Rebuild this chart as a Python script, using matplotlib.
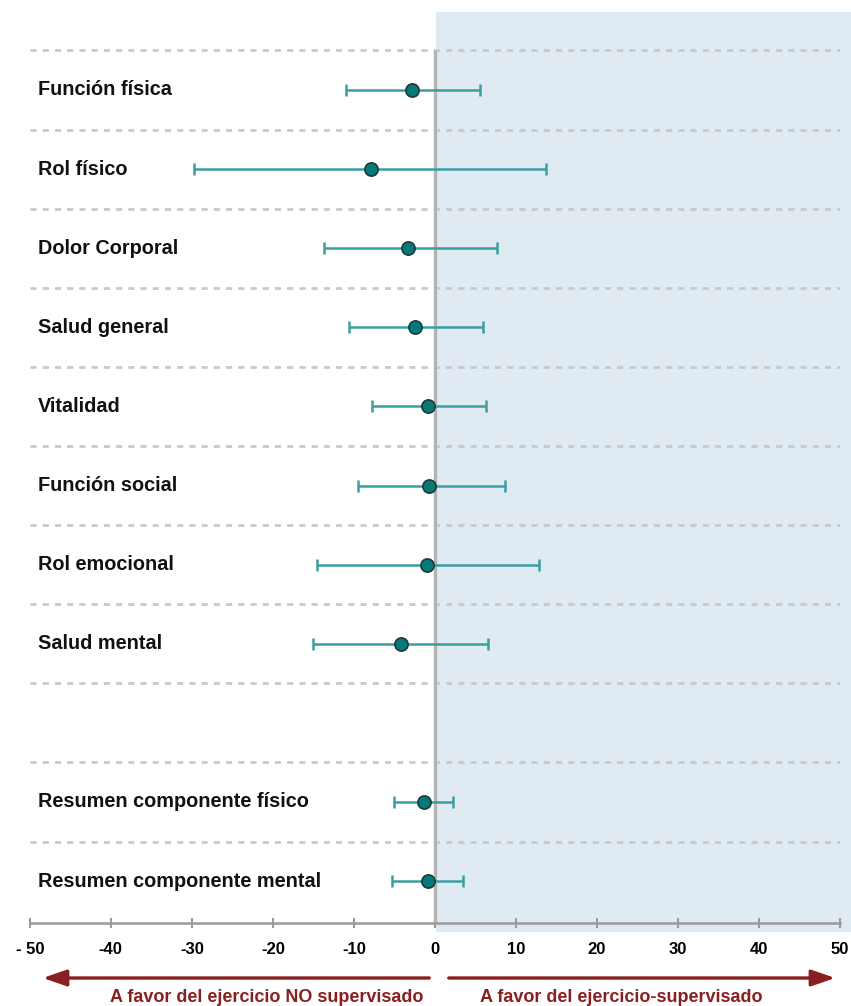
import matplotlib
matplotlib.use("Agg")
import matplotlib.pyplot as plt
from matplotlib.patches import Rectangle, FancyArrowPatch

# SF-36 domains: mean difference and 95% CI (supervised vs. non-supervised exercise)
labels = [
    "Función física", "Rol físico", "Dolor Corporal", "Salud general",
    "Vitalidad", "Función social", "Rol emocional", "Salud mental",
    None,
    "Resumen componente físico", "Resumen componente mental",
]
means = [-2.8, -7.9, -3.3, -2.4, -0.9, -0.7, -1.0, -4.2, None, -1.3, -0.8]
ci_low = [-11.0, -29.7, -13.7, -10.6, -7.7, -9.5, -14.6, -15.0, None, -5.0, -5.3]
ci_high = [5.6, 13.7, 7.7, 6.0, 6.3, 8.6, 12.8, 6.6, None, 2.3, 3.5]
xticks = [-50, -40, -30, -20, -10, 0, 10, 20, 30, 40, 50]
xticklabels = ["- 50", "-40", "-30", "-20", "-10", "0", "10", "20", "30", "40", "50"]
left_note = "A favor del ejercicio NO supervisado"
right_note = "A favor del ejercicio-supervisado"

plt.rcParams["font.family"] = ["Liberation Sans", "DejaVu Sans"]

fig = plt.figure(figsize=(8.51, 10.06), dpi=100)
ax = fig.add_axes([0.035, 0.0825, 0.952, 0.9056])
ax.patch.set_visible(False)

n = len(labels)
ax.set_xlim(-50, 50)
ax.set_ylim(n - 0.47, -0.986)

# shaded half favouring supervised exercise
ax.add_patch(Rectangle((0.15, -0.986), 51.4, n - 0.47 + 0.986 + 0.12,
                       facecolor="#dfeaf3", edgecolor="none", zorder=0,
                       clip_on=False))

# row separators
for i in range(n):
    ax.plot([-50, 50], [i - 0.5, i - 0.5], color="#c9c9c9", lw=2,
            dashes=(2.2, 2.2), zorder=1)

# zero line
ax.plot([0, 0], [-0.5, n - 0.47], color="#b3b3b3", lw=2.4, zorder=2,
        solid_capstyle="butt")

for i, (lab, m, lo, hi) in enumerate(zip(labels, means, ci_low, ci_high)):
    if lab is None:
        continue
    ax.errorbar([m], [i], xerr=[[m - lo], [hi - m]], fmt="none",
                ecolor="#3a9fa0", elinewidth=1.8, capsize=4.2, capthick=1.8,
                zorder=3)
    ax.plot([m], [i], "o", ms=9.5, mfc="#067a78", mec="#1e3a3a", mew=1.2,
            zorder=4)
    ax.text(0.01, i, lab, transform=ax.get_yaxis_transform(),
            ha="left", va="center", fontsize=14.3, fontweight="bold",
            color="#111111")

for s in ["top", "right", "left"]:
    ax.spines[s].set_visible(False)
ax.spines["bottom"].set_color("#9a9a9a")
ax.spines["bottom"].set_linewidth(1.8)
ax.set_yticks([])
ax.set_xticks(xticks)
ax.set_xticklabels(xticklabels, fontweight="bold", fontsize=12)
ax.tick_params(axis="x", direction="inout", length=7, width=1.5,
               color="#9a9a9a", pad=10)

# direction arrows
arrow_y = 28 / 1006
red = "#8b1f1f"
for start, end in [((432 / 851, arrow_y), (40 / 851, arrow_y)),
                   ((446 / 851, arrow_y), (838 / 851, arrow_y))]:
    fig.patches.append(FancyArrowPatch(
        start, end, transform=fig.transFigure,
        arrowstyle="-|>,head_length=1.3,head_width=0.45", mutation_scale=11,
        color=red, lw=2.4))
fig.text(267 / 851, 8 / 1006, left_note, ha="center", va="center",
         color=red, fontweight="bold", fontsize=13)
fig.text(621 / 851, 8 / 1006, right_note, ha="center", va="center",
         color=red, fontweight="bold", fontsize=13)

fig.savefig("out.png", dpi=100)
